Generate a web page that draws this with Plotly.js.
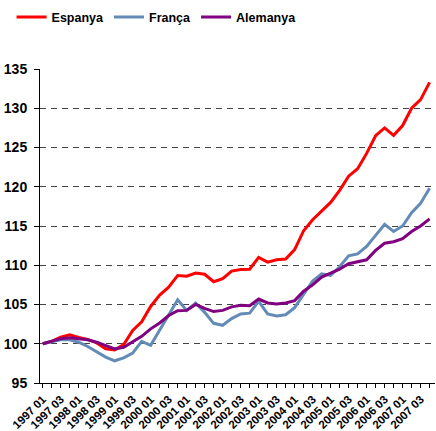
<!DOCTYPE html>
<html>
<head>
<meta charset="utf-8">
<script src="https://cdn.plot.ly/plotly-3.0.1.min.js"></script>
<style>html,body{margin:0;padding:0;background:#fff;}#chart{width:436px;height:431px;}</style>
</head>
<body>
<div id="chart"></div>
<script>
// Quarters 1997 01 .. 2007 04
const years = [1997,1998,1999,2000,2001,2002,2003,2004,2005,2006,2007];
const quarters = ["01","02","03","04"];
const espanya = [100,100.3,100.85,101.15,100.8,100.55,100.1,99.35,99.2,99.9,101.7,102.8,104.75,106.2,107.2,108.7,108.6,109.0,108.85,107.9,108.3,109.25,109.45,109.5,111.0,110.4,110.7,110.8,112.0,114.4,115.8,116.9,118.0,119.55,121.35,122.3,124.25,126.5,127.5,126.55,127.8,130.0,131.1,133.3];
const franca = [100,100.25,100.5,100.5,100.2,99.65,98.98,98.3,97.83,98.2,98.8,100.3,99.8,101.7,103.6,105.6,104.25,105.2,104.0,102.6,102.35,103.2,103.8,103.9,105.4,103.8,103.55,103.7,104.6,106.3,108.0,108.9,108.7,109.8,111.2,111.45,112.4,113.8,115.2,114.3,115.0,116.7,117.9,119.8];
const alemanya = [100,100.35,100.65,100.75,100.65,100.5,100.2,99.8,99.35,99.55,100.2,100.95,101.9,102.65,103.6,104.2,104.25,105.0,104.5,104.1,104.25,104.7,104.9,104.85,105.7,105.2,105.05,105.2,105.5,106.7,107.5,108.5,109.0,109.5,110.2,110.45,110.7,111.9,112.8,113.0,113.4,114.3,115.0,115.9];
const yTicks = [95,100,105,110,115,120,125,130,135];

const cats = [];
years.forEach(y => quarters.forEach(q => cats.push(y + " " + q)));
const idx = cats.map((c, i) => i);
const tickText = cats.map((c, i) => (i % 2 === 0 ? c : ""));

const font = "Arial, 'Liberation Sans', sans-serif";
function tr(name, ys, color) {
  return {x: idx, y: ys, name: name, type: "scatter", mode: "lines",
          line: {color: color, width: 3}, hoverinfo: "skip"};
}
const data = [
  tr("Espanya", espanya, "#FF0000"),
  tr("França", franca, "#648BB6"),
  tr("Alemanya", alemanya, "#800080")
];
const layout = {
  width: 436, height: 431,
  margin: {l: 40, r: 1, t: 69, b: 48},
  paper_bgcolor: "#fff", plot_bgcolor: "#fff",
  font: {family: font, color: "#000", size: 12},
  showlegend: true,
  legend: {orientation: "h", x: -0.072, xanchor: "left", y: 1.212, yanchor: "top",
           font: {family: font, size: 12.5, color: "#000", weight: "bold"},
           itemwidth: 30, tracegroupgap: 0, bgcolor: "rgba(0,0,0,0)"},
  xaxis: {
    range: [-0.3, 43.6], tickmode: "array", tickvals: idx, ticktext: tickText,
    tickangle: -45, ticks: "outside", ticklen: 4, tickcolor: "#000", tickwidth: 1,
    showline: true, linecolor: "#000", linewidth: 1, showgrid: false, zeroline: false,
    tickfont: {family: font, size: 11.5, color: "#000", weight: "bold"}
  },
  yaxis: {
    range: [95, 135], tickmode: "array", tickvals: yTicks,
    ticks: "outside", ticklen: 5, tickcolor: "#000", tickwidth: 1,
    showline: true, linecolor: "#000", linewidth: 1, zeroline: false,
    showgrid: true, gridcolor: "#444", gridwidth: 1, griddash: "6px,5px",
    ticklabelstandoff: 4,
    tickfont: {family: font, size: 14, color: "#000", weight: "bold"}
  }
};
Plotly.newPlot("chart", data, layout, {displayModeBar: false, staticPlot: true});
</script>
</body>
</html>
